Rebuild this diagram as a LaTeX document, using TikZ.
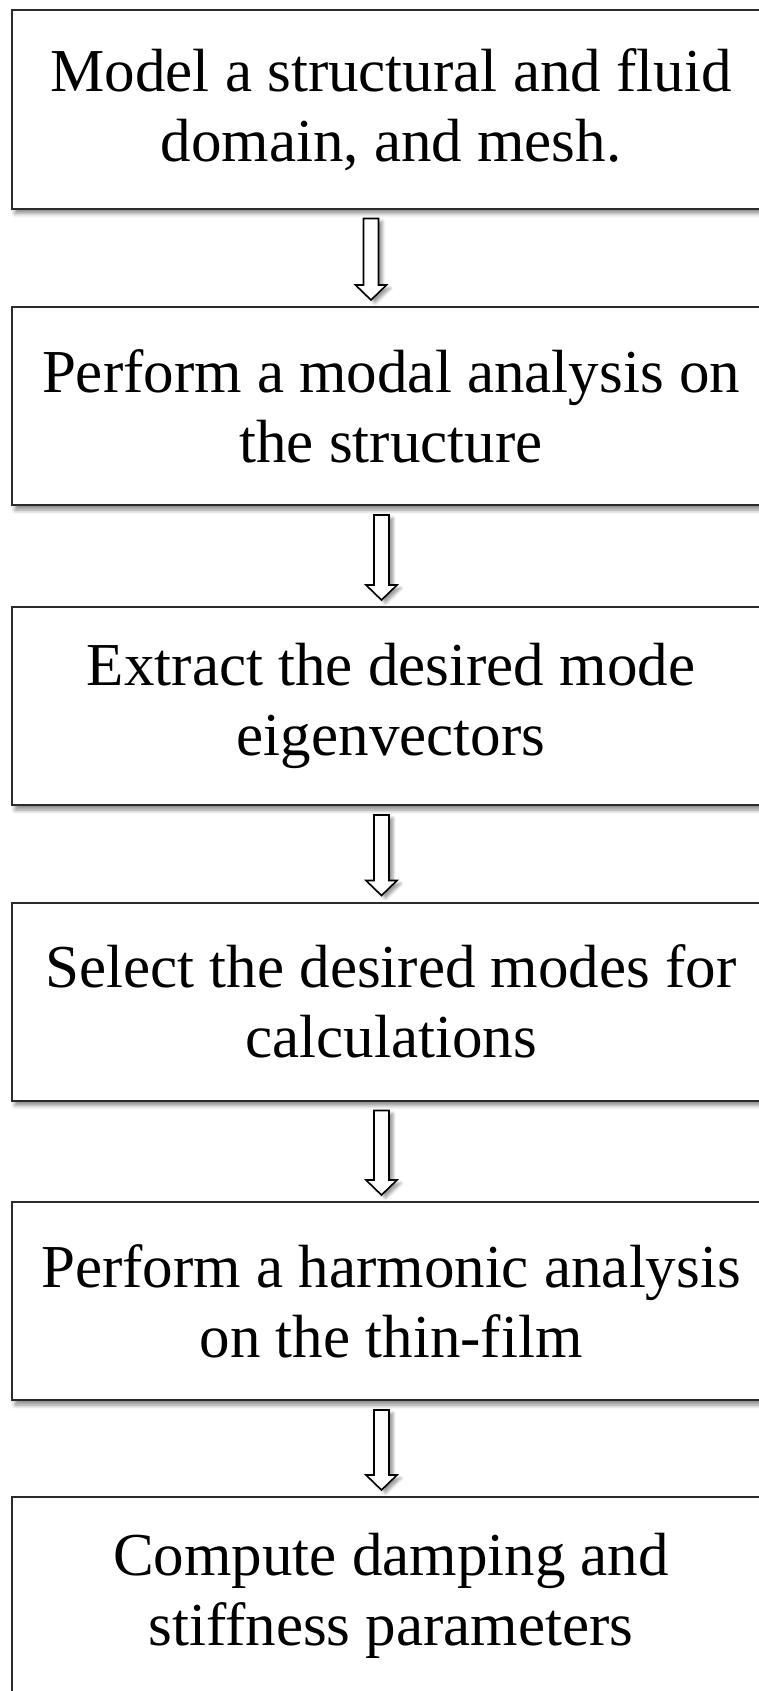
\documentclass[tikz,border=0pt]{standalone}
\usepackage{fontspec}
\setmainfont{Liberation Serif}
\usepackage{tikz}
\usetikzlibrary{calc,shadows.blur}
\definecolor{Edge}{HTML}{2B2B2B}
\tikzset{
  stage/.style={draw=Edge, line width=2pt, fill=white, minimum width=758pt, minimum height=198pt,
    align=center, inner sep=0pt, font=\fontsize{61pt}{70pt}\selectfont,
    blur shadow={shadow xshift=3pt, shadow yshift=-5pt, shadow blur radius=4pt, shadow opacity=45}},
  hollow/.style={draw=black, line width=1.6pt, fill=white, line join=miter,
    blur shadow={shadow xshift=4pt, shadow yshift=-3pt, shadow blur radius=3pt, shadow opacity=40}}
}

\begin{document}
\begin{tikzpicture}[x=1pt,y=-1pt]
\useasboundingbox (0,0) rectangle (759,1691);
\clip (0,0) rectangle (759,1691);
% the six stages, top to bottom
\foreach \n/\y/\txt in {
  1/109.5/{Model a structural and fluid\\domain, and mesh.},
  2/406/{Perform a modal analysis on\\the structure},
  3/706/{Extract the desired mode\\eigenvectors},
  4/1001.5/{Select the desired modes for\\calculations},
  5/1301/{Perform a harmonic analysis\\on the thin-film},
  6/1596/{Compute damping and\\stiffness parameters}}{
  \node[stage] (s\n) at (391,\y) {\txt};
}
% block arrows between the stages
\foreach \a/\b/\dx in {s1/s2/-20,s2/s3/-9.5,s3/s4/-9.5,s4/s5/-9.5,s5/s6/-9.5}{
  \draw[hollow] let \p1=([xshift=\dx pt]\a.south), \p2=([xshift=\dx pt]\b.north) in
    (\x1-7.5pt,\y1-9pt) -- (\x1+7.5pt,\y1-9pt) -- (\x1+7.5pt,\y2+21pt) -- (\x1+15.5pt,\y2+21pt)
    -- (\x1,\y2+6pt) -- (\x1-15.5pt,\y2+21pt) -- (\x1-7.5pt,\y2+21pt) -- cycle;
}
\end{tikzpicture}
\end{document}
